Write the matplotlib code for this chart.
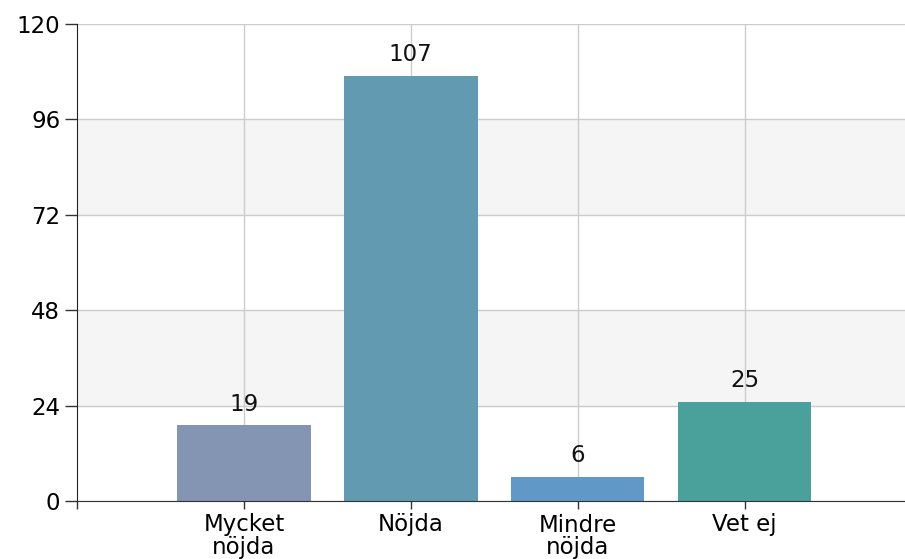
import matplotlib.pyplot as plt
import numpy as np

categories = ["Mycket\nnöjda", "Nöjda", "Mindre\nnöjda", "Vet ej"]
values = [19, 107, 6, 25]
colors = ["#8494b3", "#629bb1", "#6099c8", "#4aa09a"]
yticks = [0, 24, 48, 72, 96, 120]

plt.rcParams['font.family'] = ['DejaVu Sans']

fig = plt.figure(figsize=(9.05, 5.59), dpi=100)
ax = fig.add_axes([77 / 905, 1 - 501 / 559, 1 - 77 / 905 + 0.02, (501 - 24) / 559])

x = np.arange(len(categories))
ax.set_xlim(-1, 4.07)
ax.set_ylim(0, 120)

# alternating bands
for i in range(len(yticks) - 1):
    if i % 2 == 1:
        ax.axhspan(yticks[i], yticks[i + 1], color="#f5f5f5", zorder=0)

ax.set_yticks(yticks)
ax.grid(axis="y", color="#cccccc", linewidth=1, zorder=1)
for xi in x:
    ax.axvline(xi, color="#cccccc", linewidth=1, zorder=1)

ax.bar(x, values, width=0.8, color=colors, zorder=2)
for xi, v in zip(x, values):
    ax.annotate(str(v), (xi, v), xytext=(0, 7), textcoords="offset points",
                ha="center", va="bottom", fontsize=16.5, color="#111111")

ax.set_xticks([-1] + list(x))
ax.set_xticklabels([""] + categories, fontsize=16.5, linespacing=0.95)
ax.tick_params(axis="x", length=6, width=1, color="#333333", pad=3)
ax.tick_params(axis="y", length=9, width=1, color="#333333", labelsize=16.5, pad=3)

for s in ["top", "right"]:
    ax.spines[s].set_visible(False)
ax.spines["left"].set_color("#222222")
ax.spines["bottom"].set_color("#333333")
ax.spines["left"].set_zorder(3)
ax.spines["bottom"].set_zorder(3)

fig.savefig("out.png", dpi=100)
